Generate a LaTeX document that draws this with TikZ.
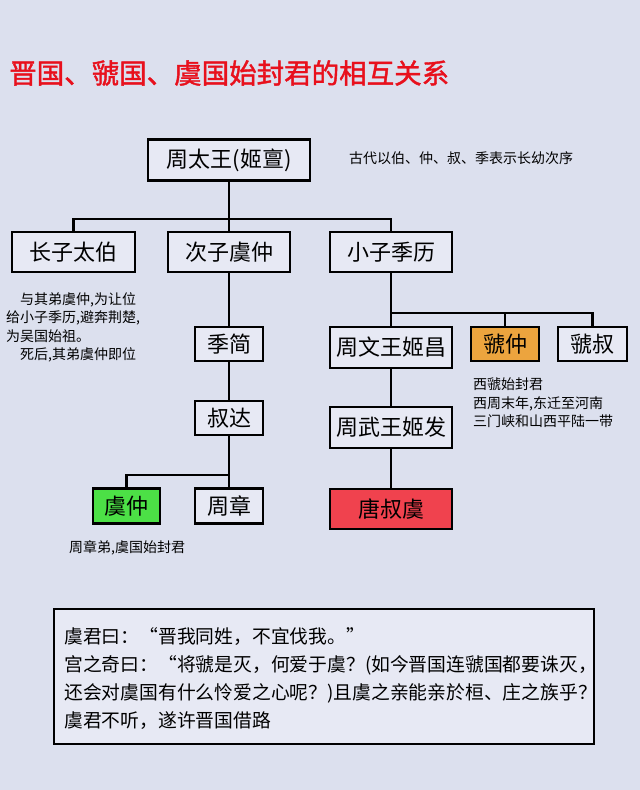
\documentclass[tikz,border=0pt]{standalone}
\usepackage{fontspec}
\setmainfont{Noto Sans CJK SC}
\newfontfamily\titlefont[FakeBold=1.5]{Noto Sans CJK SC}
\definecolor{bgc}{RGB}{220,224,238}
\definecolor{boxc}{RGB}{231,233,244}
\definecolor{greenc}{RGB}{76,224,70}
\definecolor{orangec}{RGB}{236,164,62}
\definecolor{redc}{RGB}{240,66,78}
\definecolor{titlec}{RGB}{232,16,28}
\tikzset{
  person/.style={draw=black, line width=2.6pt, fill=boxc, inner sep=0pt,
    font=\fontsize{22}{26}\selectfont},
  link/.style={draw=black, line width=2.4pt},
  note/.style={anchor=north west, align=left, inner sep=0pt,
    font=\fontsize{14}{18.5}\selectfont},
}
\begin{document}
\begin{tikzpicture}[x=1pt,y=-1pt]
\useasboundingbox (0,0) rectangle (640,790);
\fill[bgc] (0,0) rectangle (640,790);

% title
\node[anchor=west, inner sep=0pt, text=titlec, font=\titlefont\fontsize{27.5}{30}\selectfont] (title) at (9,73) {晋国、虢国、虞国始封君的相互关系};

% boxes
\node[person, minimum width=162pt, minimum height=41pt] (top) at (229,160) {周太王(姬亶)};
\node[person, minimum width=123pt, minimum height=40pt] (b1) at (73.5,252) {长子太伯};
\node[person, minimum width=122pt, minimum height=40pt] (b2) at (229,252) {次子虞仲};
\node[person, minimum width=122pt, minimum height=40pt] (b3) at (391,252) {小子季历};
\node[person, minimum width=68pt, minimum height=34pt] (jijian) at (229,344) {季简};
\node[person, minimum width=68pt, minimum height=34pt] (shuda) at (229,418) {叔达};
\node[person, fill=greenc, minimum width=67pt, minimum height=35pt] (yuzhong) at (126.5,506) {虞仲};
\node[person, minimum width=68pt, minimum height=35pt] (zhouzhang) at (229,506) {周章};
\node[person, minimum width=122pt, minimum height=41pt] (wen) at (391,347.5) {周文王姬昌};
\node[person, minimum width=122pt, minimum height=41pt] (wu) at (391,427.5) {周武王姬发};
\node[person, fill=redc, minimum width=122pt, minimum height=40pt] (tang) at (391,509) {唐叔虞};
\node[person, fill=orangec, minimum width=68pt, minimum height=34pt] (guozhong) at (505,344) {虢仲};
\node[person, minimum width=69pt, minimum height=34pt] (guoshu) at (592.5,344) {虢叔};

% bus points
\coordinate (bus1) at (229,219);
\coordinate (bus2) at (391,313);
\coordinate (bus3) at (229,475);

% connectors
\draw[link] (top.south) -- (bus1);
\draw[link] (b1.north) |- (bus1) -| (b3.north);
\draw[link] (bus1) -- (b2.north);
\draw[link] (b2.south) -- (jijian.north);
\draw[link] (jijian.south) -- (shuda.north);
\draw[link] (shuda.south) -- (zhouzhang.north);
\draw[link] (bus3) -| (yuzhong.north);
\draw[link] (b3.south) -- (wen.north);
\draw[link] (bus2) -| (guozhong.north);
\draw[link] (bus2) -| (guoshu.north);
\draw[link] (wen.south) -- (wu.north);
\draw[link] (wu.south) -- (tang.north);

% notes
\node[anchor=west, inner sep=0pt, font=\fontsize{14}{18}\selectfont] (order) at (349,158) {古代以伯、仲、叔、季表示长幼次序};
\node[note] (taibo) at (6,292) {\hspace{14pt}与其弟虞仲,为让位\\给小子季历,避奔荆楚,\\为吴国始祖。\\\hspace{14pt}死后,其弟虞仲即位};
\node[note] (guonote) at (473,378) {西虢始封君\\西周末年,东迁至河南\\三门峡和山西平陆一带};
\node[anchor=west, inner sep=0pt, font=\fontsize{14}{18}\selectfont] (yunote) at (69,548) {周章弟,虞国始封君};

% quote box
\node[draw=black, line width=2.4pt, fill=boxc, minimum width=540pt, minimum height=135pt, inner sep=0pt] (qbox) at (324,676.5) {};
\node[anchor=west, align=left, inner sep=0pt, font=\fontsize{18.8}{27.7}\selectfont] (qtext) at (64,678.5) {虞君曰：“晋我同姓，不宜伐我。”\\宫之奇曰：“将虢是灭，何爱于虞？(如今晋国连虢国都要诛灭，\\还会对虞国有什么怜爱之心呢？)且虞之亲能亲於桓、庄之族乎？\\虞君不听，遂许晋国借路};
\end{tikzpicture}
\end{document}
